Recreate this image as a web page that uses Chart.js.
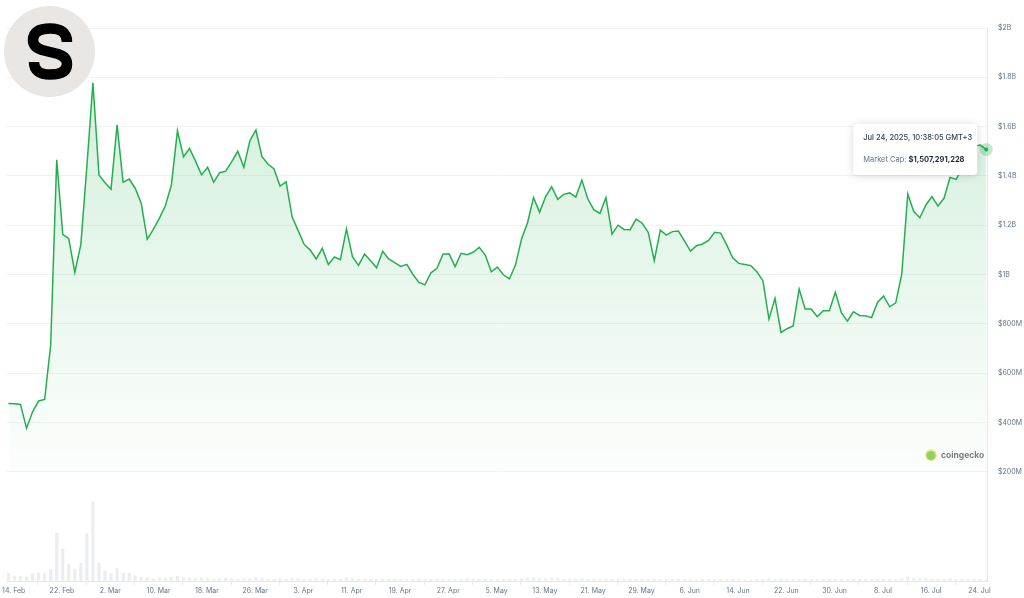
<!DOCTYPE html>
<html>
<head>
<meta charset="utf-8">
<script src="https://cdn.jsdelivr.net/npm/chart.js@4.4.1/dist/chart.umd.min.js"></script>
<style>
  html, body { margin: 0; padding: 0; background: #fff; }
  canvas { display: block; }
</style>
</head>
<body>
<canvas id="mcapChart" width="1024" height="598"></canvas>
<script>
// daily market cap in $M, first point 13 Feb, last point 24 Jul 10:38
const marketCap = [
  477, 476, 473, 376, 443, 487, 493, 714, 1465, 1163,
  1145, 1009, 1122, 1440, 1778, 1404, 1372, 1346, 1607, 1374,
  1387, 1350, 1289, 1143, 1183, 1228, 1279, 1363, 1583, 1478,
  1511, 1460, 1404, 1435, 1375, 1413, 1419, 1458, 1500, 1435,
  1543, 1586, 1478, 1448, 1428, 1359, 1376, 1234, 1178, 1122,
  1099, 1063, 1106, 1041, 1071, 1060, 1185, 1072, 1037, 1083,
  1056, 1027, 1094, 1063, 1048, 1033, 1041, 1001, 968, 958,
  1007, 1025, 1082, 1084, 1032, 1086, 1080, 1090, 1110, 1079,
  1011, 1030, 999, 982, 1038, 1143, 1210, 1312, 1252, 1316,
  1356, 1305, 1325, 1331, 1314, 1383, 1306, 1262, 1248, 1312,
  1164, 1200, 1183, 1182, 1225, 1208, 1171, 1056, 1180, 1160,
  1174, 1176, 1136, 1095, 1117, 1124, 1138, 1171, 1168, 1120,
  1068, 1045, 1041, 1036, 1011, 975, 819, 903, 765, 780,
  791, 941, 860, 860, 829, 853, 853, 928, 845, 811,
  849, 834, 833, 825, 888, 913, 869, 885, 1001, 1327,
  1255, 1230, 1282, 1316, 1278, 1309, 1394, 1386, 1430, 1480,
  1520, 1525, 1507.291228
];

// daily volume in $M (faint bars in the lower pane)
const volume = [
  20, 12, 12, 10, 18, 20, 18, 30, 120, 80, 42, 30, 45, 118, 198, 45, 25, 18, 32, 20, 20, 12,
  8, 7, 6, 8, 7, 9, 12, 8, 7, 6, 7, 6, 5, 6, 7, 6, 5, 6,
  6, 8, 7, 5, 5, 6, 5, 7, 6, 5, 5, 6, 5, 4, 5, 5, 8, 6, 5, 4,
  4, 5, 5, 4, 4, 5, 4, 4, 5, 4, 4, 5, 4, 5, 4, 4, 6, 5, 4, 4,
  4, 4, 4, 4, 5, 6, 7, 8, 6, 6, 7, 6, 5, 5, 5, 6, 5, 5, 4, 5,
  5, 4, 4, 4, 5, 4, 4, 5, 4, 4, 4, 4, 4, 4, 3, 4, 4, 4, 4, 4,
  4, 4, 3, 3, 4, 4, 6, 5, 5, 4, 4, 5, 4, 4, 4, 4, 4, 5, 4, 4,
  4, 4, 4, 4, 5, 5, 4, 4, 6, 9, 7, 6, 6, 5, 5, 5, 6, 5, 5, 5,
  5, 5, 3
];

const tickLabels = [
  "14. Feb", "22. Feb", "2. Mar", "10. Mar", "18. Mar", "26. Mar", "3. Apr",
  "11. Apr", "19. Apr", "27. Apr", "5. May", "13. May", "21. May", "29. May",
  "6. Jun", "14. Jun", "22. Jun", "30. Jun", "8. Jul", "16. Jul", "24. Jul"
];

const tipTitle = "Jul 24, 2025, 10:38:05 GMT+3";
const tipLabel = "Market Cap: ";
const tipValue = "$1,507,291,228";

// x is days since 14 Feb (local midnight); daily points land at 03:00 local
const firstDay = -0.875;
const tickStep = 8;

const priceData = marketCap.map((v, i) => ({ x: firstDay + i, y: v }));
const volData = volume.map((v, i) => ({ x: firstDay + i, y: v }));

const green = "#22b04e";
const labelColor = "#64748b";
const lineGrey = "#e5e7eb";

function fillGradient(context) {
  const chart = context.chart;
  const y = chart.scales.y;
  if (!chart.chartArea || !y || !isFinite(y.top) || !isFinite(y.bottom)) {
    return "rgba(34,176,78,0.1)";
  }
  const g = chart.ctx.createLinearGradient(0, y.top, 0, y.bottom);
  g.addColorStop(0, "rgba(34,176,78,0.22)");
  g.addColorStop(1, "rgba(34,176,78,0.01)");
  return g;
}

function formatCap(v) {
  return v >= 1000 ? "$" + v / 1000 + "B" : "$" + v + "M";
}

const extras = {
  id: "extras",
  afterDraw(chart) {
    const ctx = chart.ctx;
    const meta = chart.getDatasetMeta(0);
    const pt = meta.data[meta.data.length - 1];

    // coingecko mark
    ctx.save();
    ctx.beginPath();
    ctx.arc(931, 455, 6, 0, Math.PI * 2);
    ctx.fillStyle = "#f3e79b";
    ctx.fill();
    ctx.beginPath();
    ctx.arc(931, 455.5, 4.6, 0, Math.PI * 2);
    ctx.fillStyle = "#8dd35f";
    ctx.fill();
    ctx.fillStyle = "#7a7a7a";
    ctx.font = "700 8.5px Inter";
    ctx.textBaseline = "middle";
    ctx.fillText("coingecko", 941, 455);
    ctx.restore();

    // hovered point
    ctx.save();
    ctx.beginPath();
    ctx.arc(pt.x, pt.y, 6.5, 0, Math.PI * 2);
    ctx.fillStyle = "rgba(34,176,78,0.28)";
    ctx.fill();
    ctx.beginPath();
    ctx.arc(pt.x, pt.y, 2, 0, Math.PI * 2);
    ctx.fillStyle = green;
    ctx.fill();
    ctx.restore();

    // tooltip box
    const w = 124, h = 51;
    const bx = pt.x - 9 - w, by = pt.y - h / 2;
    ctx.save();
    ctx.shadowColor = "rgba(0,0,0,0.16)";
    ctx.shadowBlur = 8;
    ctx.shadowOffsetY = 1;
    ctx.fillStyle = "#fff";
    ctx.beginPath();
    ctx.roundRect(bx, by, w, h, 4);
    ctx.fill();
    ctx.restore();

    ctx.save();
    ctx.textBaseline = "middle";
    ctx.font = "500 7.5px Inter";
    ctx.fillStyle = "#334155";
    ctx.fillText(tipTitle, bx + 10, by + 14);
    ctx.font = "400 7.5px Inter";
    ctx.fillStyle = "#64748b";
    ctx.fillText(tipLabel, bx + 10, by + 35.5);
    const lw = ctx.measureText(tipLabel).width;
    ctx.font = "700 7.5px Inter";
    ctx.fillStyle = "#1e293b";
    ctx.fillText(tipValue, bx + 10 + lw, by + 35.5);
    ctx.restore();

    // token logo
    ctx.save();
    ctx.beginPath();
    ctx.arc(49.5, 51.5, 45.5, 0, Math.PI * 2);
    ctx.fillStyle = "#e9e6e4";
    ctx.fill();
    ctx.strokeStyle = "#000";
    ctx.lineWidth = 10.5;
    ctx.lineJoin = "round";
    ctx.beginPath();
    ctx.moveTo(67, 42);
    ctx.quadraticCurveTo(67, 28.5, 50, 28.5);
    ctx.quadraticCurveTo(33, 28.5, 33, 40);
    ctx.quadraticCurveTo(33, 47, 42, 50);
    ctx.lineTo(58, 54);
    ctx.quadraticCurveTo(67, 57, 67, 64);
    ctx.quadraticCurveTo(67, 74.5, 50, 74.5);
    ctx.quadraticCurveTo(34, 74.5, 34, 62);
    ctx.stroke();
    ctx.restore();
  }
};

new Chart("mcapChart", {
  type: "line",
  data: {
    datasets: [
      {
        label: "Market Cap",
        data: priceData,
        yAxisID: "y",
        borderColor: green,
        borderWidth: 1.5,
        backgroundColor: fillGradient,
        fill: "start",
        pointRadius: 0,
        tension: 0,
      },
      {
        type: "bar",
        label: "Volume",
        data: volData,
        yAxisID: "vol",
        backgroundColor: "rgba(205,210,218,0.4)",
        barThickness: 2.5,
      },
    ],
  },
  plugins: [extras],
  options: {
    responsive: false,
    animation: false,
    layout: { padding: { left: 5, top: 28, right: 0, bottom: 0 } },
    plugins: {
      legend: { display: false },
      tooltip: { enabled: false },
    },
    scales: {
      x: {
        type: "linear",
        offset: false,
        min: -1.256,
        max: 161.25,
        afterBuildTicks(scale) {
          scale.ticks = tickLabels.map((t, i) => ({ value: i * tickStep }));
        },
        afterFit(scale) {
          scale.height = 17;
        },
        ticks: {
          autoSkip: false,
          maxRotation: 0,
          padding: 2,
          color: labelColor,
          font: { family: "Inter", size: 7 },
          callback: (v) => tickLabels[Math.round(v / tickStep)],
        },
        grid: { drawOnChartArea: false, tickLength: 4, color: lineGrey },
        border: { display: true, color: lineGrey },
      },
      y: {
        position: "right",
        stack: "panes",
        stackWeight: 443.7,
        min: 200,
        max: 2000,
        afterFit(scale) {
          scale.width = 37;
        },
        ticks: {
          stepSize: 200,
          padding: 11,
          color: labelColor,
          font: { family: "Inter", size: 7 },
          callback: formatCap,
        },
        grid: { color: "#f1f2f4", drawTicks: false },
        border: { display: true, color: lineGrey },
      },
      vol: {
        position: "right",
        stack: "panes",
        stackWeight: 109.3,
        min: 0,
        max: 273,
        afterFit(scale) {
          scale.width = 37;
        },
        ticks: { display: false },
        grid: { drawOnChartArea: false, drawTicks: false },
        border: { display: true, color: lineGrey },
      },
    },
  },
});
</script>
</body>
</html>
